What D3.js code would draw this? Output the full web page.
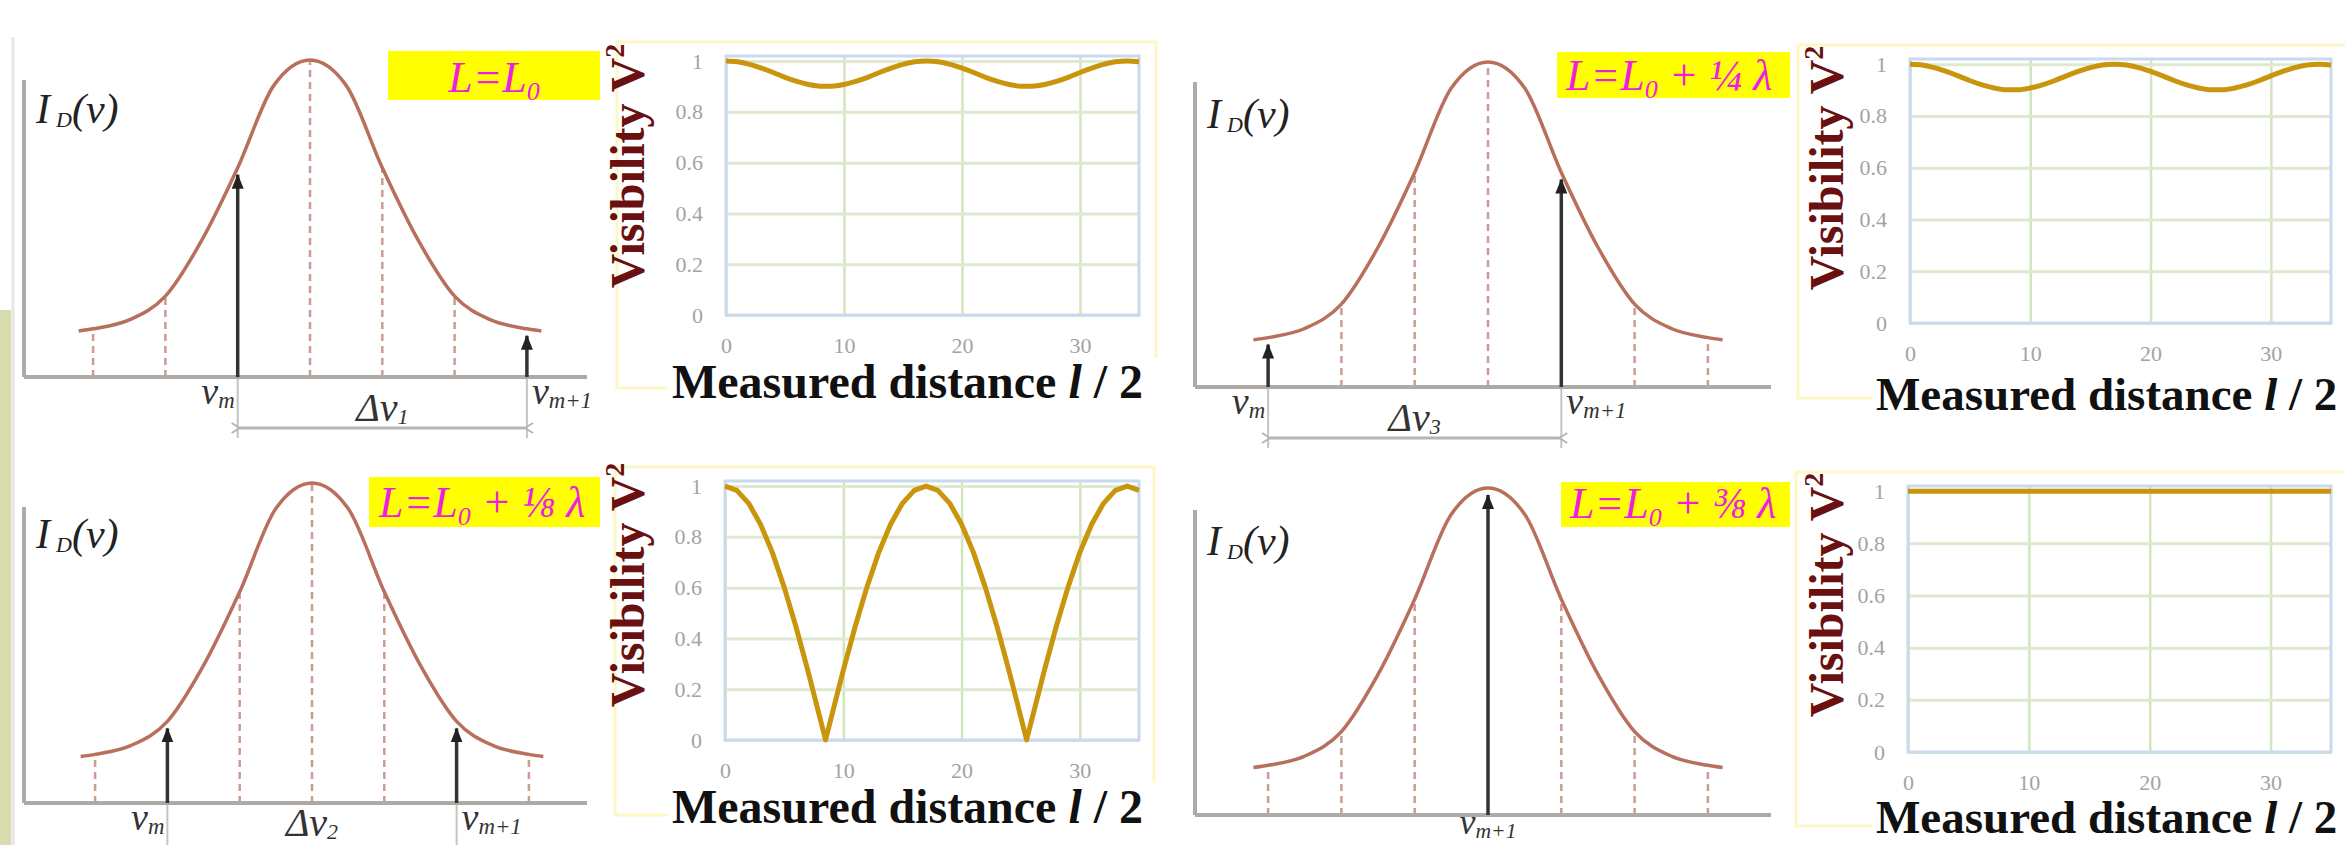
<!DOCTYPE html>
<html>
<head>
<meta charset="utf-8">
<script src="https://cdn.jsdelivr.net/npm/d3@7/dist/d3.min.js"></script>
<style>
body { margin: 0; background: #fff; }
svg { display: block; }
text { font-family: "Liberation Serif", "DejaVu Serif", serif; }
</style>
</head>
<body>
<div class="container"></div>
<script>
// spectrum envelope (x in mode spacings from line centre)
var modeOffset = [-3.2, -3, -2.5, -2, -1.5, -1, -0.5, 0, 0.5, 1, 1.5, 2, 2.5, 3, 3.2];
var modeIntensity = [0.145, 0.152, 0.18, 0.255, 0.43, 0.66, 0.92, 1, 0.92, 0.66, 0.43, 0.255, 0.18, 0.152, 0.145];
var modes = [-3, -2, -1, 0, 1, 2, 3];

// which modes carry the arrows in each case
var arrowsL0 = [-1, 3];
var arrowsQuarter = [-3, 1];
var arrowsEighth = [-2, 2];
var arrowsThreeEighths = [0];

// visibility curves, measured distance l/2
var distSmooth = [0,1,2,3,4,5,6,7,8,9,10,11,12,13,14,15,16,17,18,19,20,21,22,23,24,25,26,27,28,29,30,31,32,33,34,35];
var visL0 = [1.000,0.997,0.987,0.972,0.955,0.936,0.920,0.908,0.901,0.901,0.908,0.920,0.936,0.955,0.972,0.987,0.997,1.000,
             0.997,0.987,0.972,0.955,0.936,0.920,0.908,0.901,0.901,0.908,0.920,0.936,0.955,0.972,0.987,0.997,1.000,0.997];
var visQuarter = visL0.slice(); // same curve for L0 + 1/4 lambda

var distCusp = [0,1,2,3,4,5,6,7,8,8.5,9,10,11,12,13,14,15,16,17,18,19,20,21,22,23,24,25,25.5,26,27,28,29,30,31,32,33,34,35];
var visEighth = [1.000,0.983,0.932,0.850,0.739,0.602,0.446,0.274,0.092,0.000,0.092,0.274,0.446,0.602,0.739,0.850,0.932,0.983,1.000,
                 0.983,0.932,0.850,0.739,0.602,0.446,0.274,0.092,0.000,0.092,0.274,0.446,0.602,0.739,0.850,0.932,0.983,1.000,0.983];

var distFlat = [0, 35];
var visThreeEighths = [1.0, 1.0];

var yTicks = [0, 0.2, 0.4, 0.6, 0.8, 1];
var xTicks = [0, 10, 20, 30];

const WIDTH = 2345;
const HEIGHT = 845;

var svg = d3.select('.container').append('svg')
  .attr('width', WIDTH)
  .attr('height', HEIGHT);

svg.append('rect').attr('width', WIDTH).attr('height', HEIGHT).attr('fill', '#fff');

var defs = svg.append('defs');
defs.append('marker')
  .attr('id', 'head')
  .attr('viewBox', '-8 -7 16 14')
  .attr('refX', 6).attr('refY', 0)
  .attr('markerWidth', 16).attr('markerHeight', 14)
  .attr('markerUnits', 'userSpaceOnUse')
  .attr('orient', 'auto')
  .append('path').attr('d', 'M-8,-6 L7,0 L-8,6 Z').attr('fill', '#222');
defs.append('marker')
  .attr('id', 'open')
  .attr('viewBox', '-2 -7 12 14')
  .attr('refX', 0).attr('refY', 0)
  .attr('markerWidth', 12).attr('markerHeight', 14)
  .attr('markerUnits', 'userSpaceOnUse')
  .attr('orient', 'auto-start-reverse')
  .append('path').attr('d', 'M8,-5 L0,0 L8,5').attr('fill', 'none').attr('stroke', '#b5b5b5').attr('stroke-width', 2);

// slide edge
svg.append('rect').attr('x', 0).attr('y', 310).attr('width', 11).attr('height', HEIGHT - 310).attr('fill', '#d9dcae');
svg.append('line').attr('x1', 13).attr('y1', 37).attr('x2', 13).attr('y2', HEIGHT)
  .attr('stroke', '#e6e6e6').attr('stroke-width', 3);

var intensityAt = function (m) { return modeIntensity[modeOffset.indexOf(m)]; };

var label = function (g, x, y, anchor, sub, size) {
  var t = g.append('text').attr('x', x).attr('y', y).attr('text-anchor', anchor)
    .attr('font-style', 'italic').attr('font-size', size).attr('fill', '#333');
  t.append('tspan').text('ν');
  t.append('tspan').attr('font-size', size * 0.6).attr('dy', 4).text(sub);
  return t;
};

var drawSpectrum = function (p) {
  var x = d3.scaleLinear().domain([-1, 1]).range([p.cx - p.step, p.cx + p.step]);
  var y = d3.scaleLinear().domain([0, 1]).range([p.base, p.peak]);
  var g = svg.append('g');

  g.append('line').attr('x1', p.axisX).attr('y1', p.axisTop).attr('x2', p.axisX).attr('y2', p.base)
    .attr('stroke', '#aeaaa6').attr('stroke-width', 4);

  // dashed mode lines
  g.selectAll('.mode').data(modes.filter(function (m) { return p.arrows.indexOf(m) < 0; }))
    .enter().append('line')
    .attr('x1', function (m) { return x(m); })
    .attr('x2', function (m) { return x(m); })
    .attr('y1', p.base)
    .attr('y2', function (m) { return y(intensityAt(m)); })
    .attr('stroke', '#cc9c94').attr('stroke-width', 2.5).attr('stroke-dasharray', '7,5');

  var line = d3.line()
    .x(function (d, i) { return x(modeOffset[i]); })
    .y(function (d) { return y(d); })
    .curve(d3.curveMonotoneX);
  g.append('path').attr('d', line(modeIntensity))
    .attr('fill', 'none').attr('stroke', '#b86f5c').attr('stroke-width', 3.5);

  g.append('line').attr('x1', p.axisX).attr('y1', p.base).attr('x2', p.axisRight).attr('y2', p.base)
    .attr('stroke', '#aeaaa6').attr('stroke-width', 4);

  // guide lines under the arrows
  if (p.arrows.length > 1) {
    g.selectAll('.guide').data(p.arrows).enter().append('line')
      .attr('x1', function (m) { return x(m); }).attr('x2', function (m) { return x(m); })
      .attr('y1', p.base + 2).attr('y2', p.bracketY + 10)
      .attr('stroke', '#c4c4c4').attr('stroke-width', 2);
    g.append('line')
      .attr('x1', x(p.arrows[0]) + 2).attr('x2', x(p.arrows[1]) - 2)
      .attr('y1', p.bracketY).attr('y2', p.bracketY)
      .attr('stroke', '#b5b5b5').attr('stroke-width', 3)
      .attr('marker-start', 'url(#open)').attr('marker-end', 'url(#open)');
    var dl = g.append('text')
      .attr('x', (x(p.arrows[0]) + x(p.arrows[1])) / 2).attr('y', p.deltaY)
      .attr('text-anchor', 'middle').attr('font-style', 'italic').attr('font-size', 40).attr('fill', '#333');
    dl.append('tspan').text('Δν');
    dl.append('tspan').attr('font-size', 22).attr('dy', 3).text(p.delta);
  }

  g.selectAll('.arrow').data(p.arrows).enter().append('line')
    .attr('x1', function (m) { return x(m); }).attr('x2', function (m) { return x(m); })
    .attr('y1', p.base).attr('y2', function (m) { return y(intensityAt(m)) + 7; })
    .attr('stroke', '#333').attr('stroke-width', 3.5)
    .attr('marker-end', 'url(#head)');

  if (p.arrows.length > 1) {
    label(g, x(p.arrows[0]) - 3, p.labelY, 'end', 'm', 38);
    label(g, x(p.arrows[1]) + 5, p.labelY, 'start', 'm+1', 38);
  } else {
    label(g, x(p.arrows[0]), p.labelY, 'middle', 'm+1', 36);
  }

  var il = g.append('text').attr('x', p.axisX + 12).attr('y', p.iy)
    .attr('font-style', 'italic').attr('font-size', 42).attr('fill', '#222');
  il.append('tspan').text('I');
  il.append('tspan').attr('font-size', 22).attr('dx', 6).attr('dy', 4).text('D');
  il.append('tspan').attr('dy', -4).text('(ν)');

  // yellow case label
  g.append('rect').attr('x', p.box[0]).attr('y', p.box[1]).attr('width', p.box[2] - p.box[0]).attr('height', p.box[3] - p.box[1])
    .attr('fill', '#ffff00');
  var bt = g.append('text').attr('x', p.boxText[0]).attr('y', p.boxText[1])
    .attr('text-anchor', p.boxText[2])
    .attr('font-style', 'italic').attr('font-size', 44).attr('fill', '#f01ee0');
  bt.append('tspan').text('L=L');
  bt.append('tspan').attr('font-size', 26).attr('dy', 8).text('0');
  if (p.frac) bt.append('tspan').attr('dy', -8).text(' + ' + p.frac + ' λ');
};

var drawVisibility = function (c) {
  var x = d3.scaleLinear().domain([0, 35]).range([c.left, c.right]);
  var y = d3.scaleLinear().domain([0, 1.02]).range([c.zero, c.top]);
  var g = svg.append('g');

  // outer chart frame
  g.append('rect').attr('x', c.frame[0]).attr('y', c.frame[1])
    .attr('width', c.frame[2] - c.frame[0]).attr('height', c.frame[3] - c.frame[1])
    .attr('fill', '#fff').attr('stroke', '#fcf7c4').attr('stroke-width', 3);

  g.append('rect').attr('x', c.left).attr('y', c.top).attr('width', c.right - c.left).attr('height', c.zero - c.top)
    .attr('fill', '#fff');

  g.append('g').attr('transform', 'translate(0,' + c.zero + ')')
    .call(d3.axisBottom(x).tickValues(xTicks).tickSize(-(c.zero - c.top)).tickFormat(''))
    .call(function (a) { a.select('.domain').remove(); })
    .selectAll('line').attr('stroke', '#d3e5bd').attr('stroke-width', 2.5);
  g.append('g').attr('transform', 'translate(' + c.left + ',0)')
    .call(d3.axisLeft(y).tickValues(yTicks).tickSize(-(c.right - c.left)).tickFormat(''))
    .call(function (a) { a.select('.domain').remove(); })
    .selectAll('line').attr('stroke', '#dde9d0').attr('stroke-width', 3);

  g.append('rect').attr('x', c.left).attr('y', c.top).attr('width', c.right - c.left).attr('height', c.zero - c.top)
    .attr('fill', 'none').attr('stroke', '#c9d9ee').attr('stroke-width', 3);

  var ya = g.append('g').attr('transform', 'translate(' + c.left + ',0)')
    .call(d3.axisLeft(y).tickValues(yTicks).tickSize(0).tickPadding(23).tickFormat(d3.format('')));
  ya.select('.domain').remove();
  ya.selectAll('text').attr('font-family', 'Liberation Serif').attr('font-size', 22).attr('fill', '#a3a3a3');

  var xa = g.append('g').attr('transform', 'translate(0,' + c.zero + ')')
    .call(d3.axisBottom(x).tickValues(xTicks).tickSize(0).tickPadding(22));
  xa.select('.domain').remove();
  xa.selectAll('text').attr('font-family', 'Liberation Serif').attr('font-size', 22).attr('fill', '#a3a3a3');

  var line = d3.line()
    .x(function (d, i) { return x(c.xs[i]); })
    .y(function (d) { return y(d); })
    .curve(c.curve);
  g.append('path').attr('d', line(c.ys))
    .attr('fill', 'none').attr('stroke', '#c8950c').attr('stroke-width', 5).attr('stroke-linejoin', 'round');

  // axis titles
  var yt = g.append('text')
    .attr('transform', 'translate(' + c.yTitle[0] + ',' + c.yTitle[1] + ') rotate(-90)')
    .attr('text-anchor', 'middle').attr('font-weight', 'bold').attr('font-size', 48).attr('fill', '#6a1010');
  yt.append('tspan').text('Visibility V');
  yt.append('tspan').attr('font-size', 28).attr('dy', -20).text('2');

  g.append('rect').attr('x', c.title[0] - 4).attr('y', c.title[1] - 40).attr('width', 500).attr('height', 52)
    .attr('fill', '#fff');
  var xt = g.append('text').attr('x', c.title[0]).attr('y', c.title[1])
    .attr('font-weight', 'bold').attr('font-size', c.titleSize).attr('fill', '#111');
  xt.append('tspan').text('Measured distance ');
  xt.append('tspan').attr('font-style', 'italic').text('l');
  xt.append('tspan').text(' / 2');
};

drawSpectrum({cx: 310, step: 72.3, base: 377, peak: 60, axisX: 24, axisTop: 80, axisRight: 587,
  arrows: arrowsL0, delta: '1', bracketY: 428, deltaY: 421, labelY: 404, iy: 123,
  box: [388, 51, 600, 100], boxText: [494, 92, 'middle'], frac: null});
drawSpectrum({cx: 1488, step: 73.3, base: 387, peak: 62, axisX: 1195, axisTop: 82, axisRight: 1771,
  arrows: arrowsQuarter, delta: '3', bracketY: 438, deltaY: 431, labelY: 414, iy: 128,
  box: [1557, 52, 1790, 98], boxText: [1566, 90, 'start'], frac: '¼'});
drawSpectrum({cx: 312, step: 72.3, base: 803, peak: 483, axisX: 24, axisTop: 507, axisRight: 587,
  arrows: arrowsEighth, delta: '2', bracketY: 857, deltaY: 836, labelY: 830, iy: 548,
  box: [369, 477, 600, 527], boxText: [379, 517, 'start'], frac: '⅛'});
drawSpectrum({cx: 1488, step: 73.3, base: 815, peak: 488, axisX: 1195, axisTop: 510, axisRight: 1771,
  arrows: arrowsThreeEighths, delta: '', bracketY: 0, deltaY: 0, labelY: 834, iy: 555,
  box: [1561, 482, 1790, 527], boxText: [1570, 518, 'start'], frac: '⅜'});

drawVisibility({left: 726, right: 1139, top: 56, zero: 315, frame: [617, 42, 1156, 388],
  title: [672, 398], titleSize: 48, yTitle: [644, 166], xs: distSmooth, ys: visL0, curve: d3.curveMonotoneX});
drawVisibility({left: 1910, right: 2331, top: 59, zero: 323, frame: [1798, 45, 2380, 398],
  title: [1876, 410], titleSize: 47, yTitle: [1843, 168], xs: distSmooth, ys: visQuarter, curve: d3.curveMonotoneX});
drawVisibility({left: 725, right: 1139, top: 481, zero: 740, frame: [615, 467, 1154, 815],
  title: [672, 823], titleSize: 48, yTitle: [644, 585], xs: distCusp, ys: visEighth, curve: d3.curveLinear});
drawVisibility({left: 1908, right: 2331, top: 486, zero: 752, frame: [1796, 472, 2380, 826],
  title: [1876, 833], titleSize: 47, yTitle: [1843, 595], xs: distFlat, ys: visThreeEighths, curve: d3.curveLinear});
</script>
</body>
</html>
